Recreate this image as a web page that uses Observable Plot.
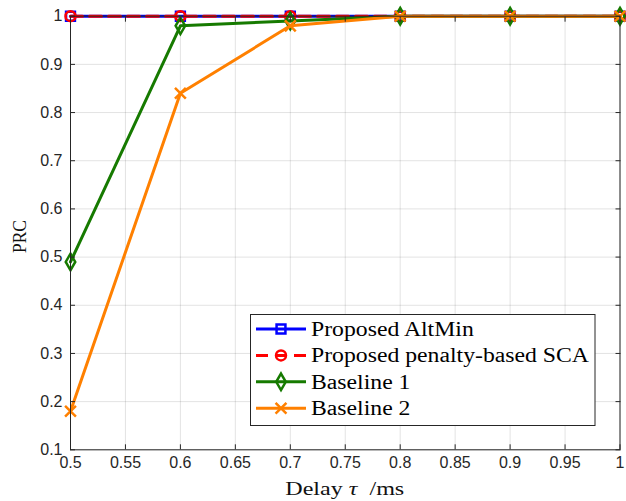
<!DOCTYPE html>
<html><head><meta charset="utf-8">
<script src="https://cdn.jsdelivr.net/npm/d3@7"></script>
<script src="https://cdn.jsdelivr.net/npm/@observablehq/plot@0.6"></script>
<style>body{margin:0;background:#fff}#chart svg{display:block}</style>
</head><body><div id="chart"></div>
<script>
const delays = [0.5, 0.6, 0.7, 0.8, 0.9, 1.0];
const altMin = [1, 1, 1, 1, 1, 1];
const penaltySCA = [1, 1, 1, 1, 1, 1];
const baseline1 = [0.49, 0.98, 0.99, 1, 1, 1];
const baseline2 = [0.18, 0.84, 0.98, 1, 1, 1];
const seriesNames = ["Proposed AltMin", "Proposed penalty-based SCA", "Baseline 1", "Baseline 2"];
const seriesValues = [altMin, penaltySCA, baseline1, baseline2];
const xTicks = [0.5, 0.55, 0.6, 0.65, 0.7, 0.75, 0.8, 0.85, 0.9, 0.95, 1];
const yTicks = [0.1, 0.2, 0.3, 0.4, 0.5, 0.6, 0.7, 0.8, 0.9, 1];
const xLabel = ["Delay ", "τ", "  /ms"];
const yLabel = "PRC";

const colors = ["#0000ff", "#ff0000", "#167a00", "#ff8000"];
const symbols = ["square", "circle", "diamond", "times"];
const dashes = [null, "12,7", null, null];
const axisColor = "#262626";
const tickFont = "'Liberation Sans', Arial, sans-serif";
const serifFont = "'Liberation Serif', 'Times New Roman', serif";

const series = seriesNames.map((name, i) =>
  delays.map((x, j) => ({x, y: seriesValues[i][j], name})));

const marks = [
  Plot.gridX(xTicks, {stroke: axisColor, strokeOpacity: 0.13}),
  Plot.gridY(yTicks, {stroke: axisColor, strokeOpacity: 0.13})
];
series.forEach((data, i) => {
  marks.push(Plot.line(data, {x: "x", y: "y", stroke: colors[i], strokeWidth: 3, strokeDasharray: dashes[i]}));
  marks.push(Plot.dot(data, {x: "x", y: "y", symbol: symbols[i], r: 5, stroke: colors[i], strokeWidth: 2.5, fill: "none"}));
});
marks.push(
  Plot.axisX(xTicks, {anchor: "bottom", tickSize: -5, tickPadding: 12, tickFormat: d => String(d), label: null, color: axisColor, fontSize: 16}),
  Plot.axisX(xTicks, {anchor: "top", tickSize: -5, tickFormat: () => "", label: null, color: axisColor}),
  Plot.axisY(yTicks, {anchor: "left", tickSize: -5, tickPadding: 13, tickFormat: d => String(d), label: null, color: axisColor, fontSize: 16}),
  Plot.axisY(yTicks, {anchor: "right", tickSize: -5, tickFormat: () => "", label: null, color: axisColor}),
  Plot.frame({stroke: axisColor})
);

const chart = Plot.plot({
  width: 626,
  height: 501,
  marginLeft: 70,
  marginRight: 6.5,
  marginTop: 15.7,
  marginBottom: 51.7,
  style: {fontFamily: tickFont, fontSize: "16px", color: axisColor, background: "#fff"},
  x: {domain: [0.5, 1]},
  y: {domain: [0.1, 1]},
  marks
});
document.getElementById("chart").appendChild(chart);

// axis titles and legend
const svg = d3.select(chart);
const xs = chart.scale("x"), ys = chart.scale("y");
const cx = (xs.apply(0.5) + xs.apply(1)) / 2;
const xt = svg.append("text").attr("x", cx).attr("y", 495).attr("text-anchor", "middle")
  .style("font-family", serifFont).style("font-size", "18.5px").attr("fill", "#111")
  .attr("textLength", 119).attr("lengthAdjust", "spacingAndGlyphs").style("white-space", "pre");
xt.append("tspan").text(xLabel[0]);
xt.append("tspan").style("font-style", "italic").text(xLabel[1]);
xt.append("tspan").text(xLabel[2]);
const cy = (ys.apply(0.1) + ys.apply(1)) / 2 + 4;
svg.append("text").attr("transform", `translate(26,${cy}) rotate(-90)`).attr("text-anchor", "middle")
  .style("font-family", serifFont).style("font-size", "18.5px").attr("fill", "#111")
  .attr("textLength", 33).attr("lengthAdjust", "spacingAndGlyphs").text(yLabel);

const lg = svg.append("g");
lg.append("rect").attr("x", 250.5).attr("y", 314.5).attr("width", 344.5).attr("height", 111)
  .attr("fill", "#fff").attr("stroke", axisColor).attr("stroke-width", 1);
const symGen = {square: d3.symbolSquare, circle: d3.symbolCircle, diamond: d3.symbolDiamond, times: d3.symbolTimes};
const texts = [];
seriesNames.forEach((name, i) => {
  const y = 329 + i * 26.4;
  lg.append("line").attr("x1", 256).attr("x2", 306).attr("y1", y).attr("y2", y)
    .attr("stroke", colors[i]).attr("stroke-width", 3).attr("stroke-dasharray", dashes[i]);
  lg.append("path").attr("transform", `translate(281,${y})`)
    .attr("d", d3.symbol(symGen[symbols[i]], Math.PI * 25)())
    .attr("fill", "none").attr("stroke", colors[i]).attr("stroke-width", 2.5);
  texts.push(lg.append("text").attr("x", 311).attr("y", y).attr("dy", "0.35em").attr("text-anchor", "start")
    .style("font-family", serifFont).style("font-size", "20px").attr("fill", "#000").text(name));
});
// stretch legend text horizontally to the wider proportions of the original typeface
const longest = d3.max(texts, t => t.node().getComputedTextLength());
const factor = 278 / longest;
texts.forEach(t => t.attr("textLength", t.node().getComputedTextLength() * factor).attr("lengthAdjust", "spacingAndGlyphs"));
</script></body></html>
